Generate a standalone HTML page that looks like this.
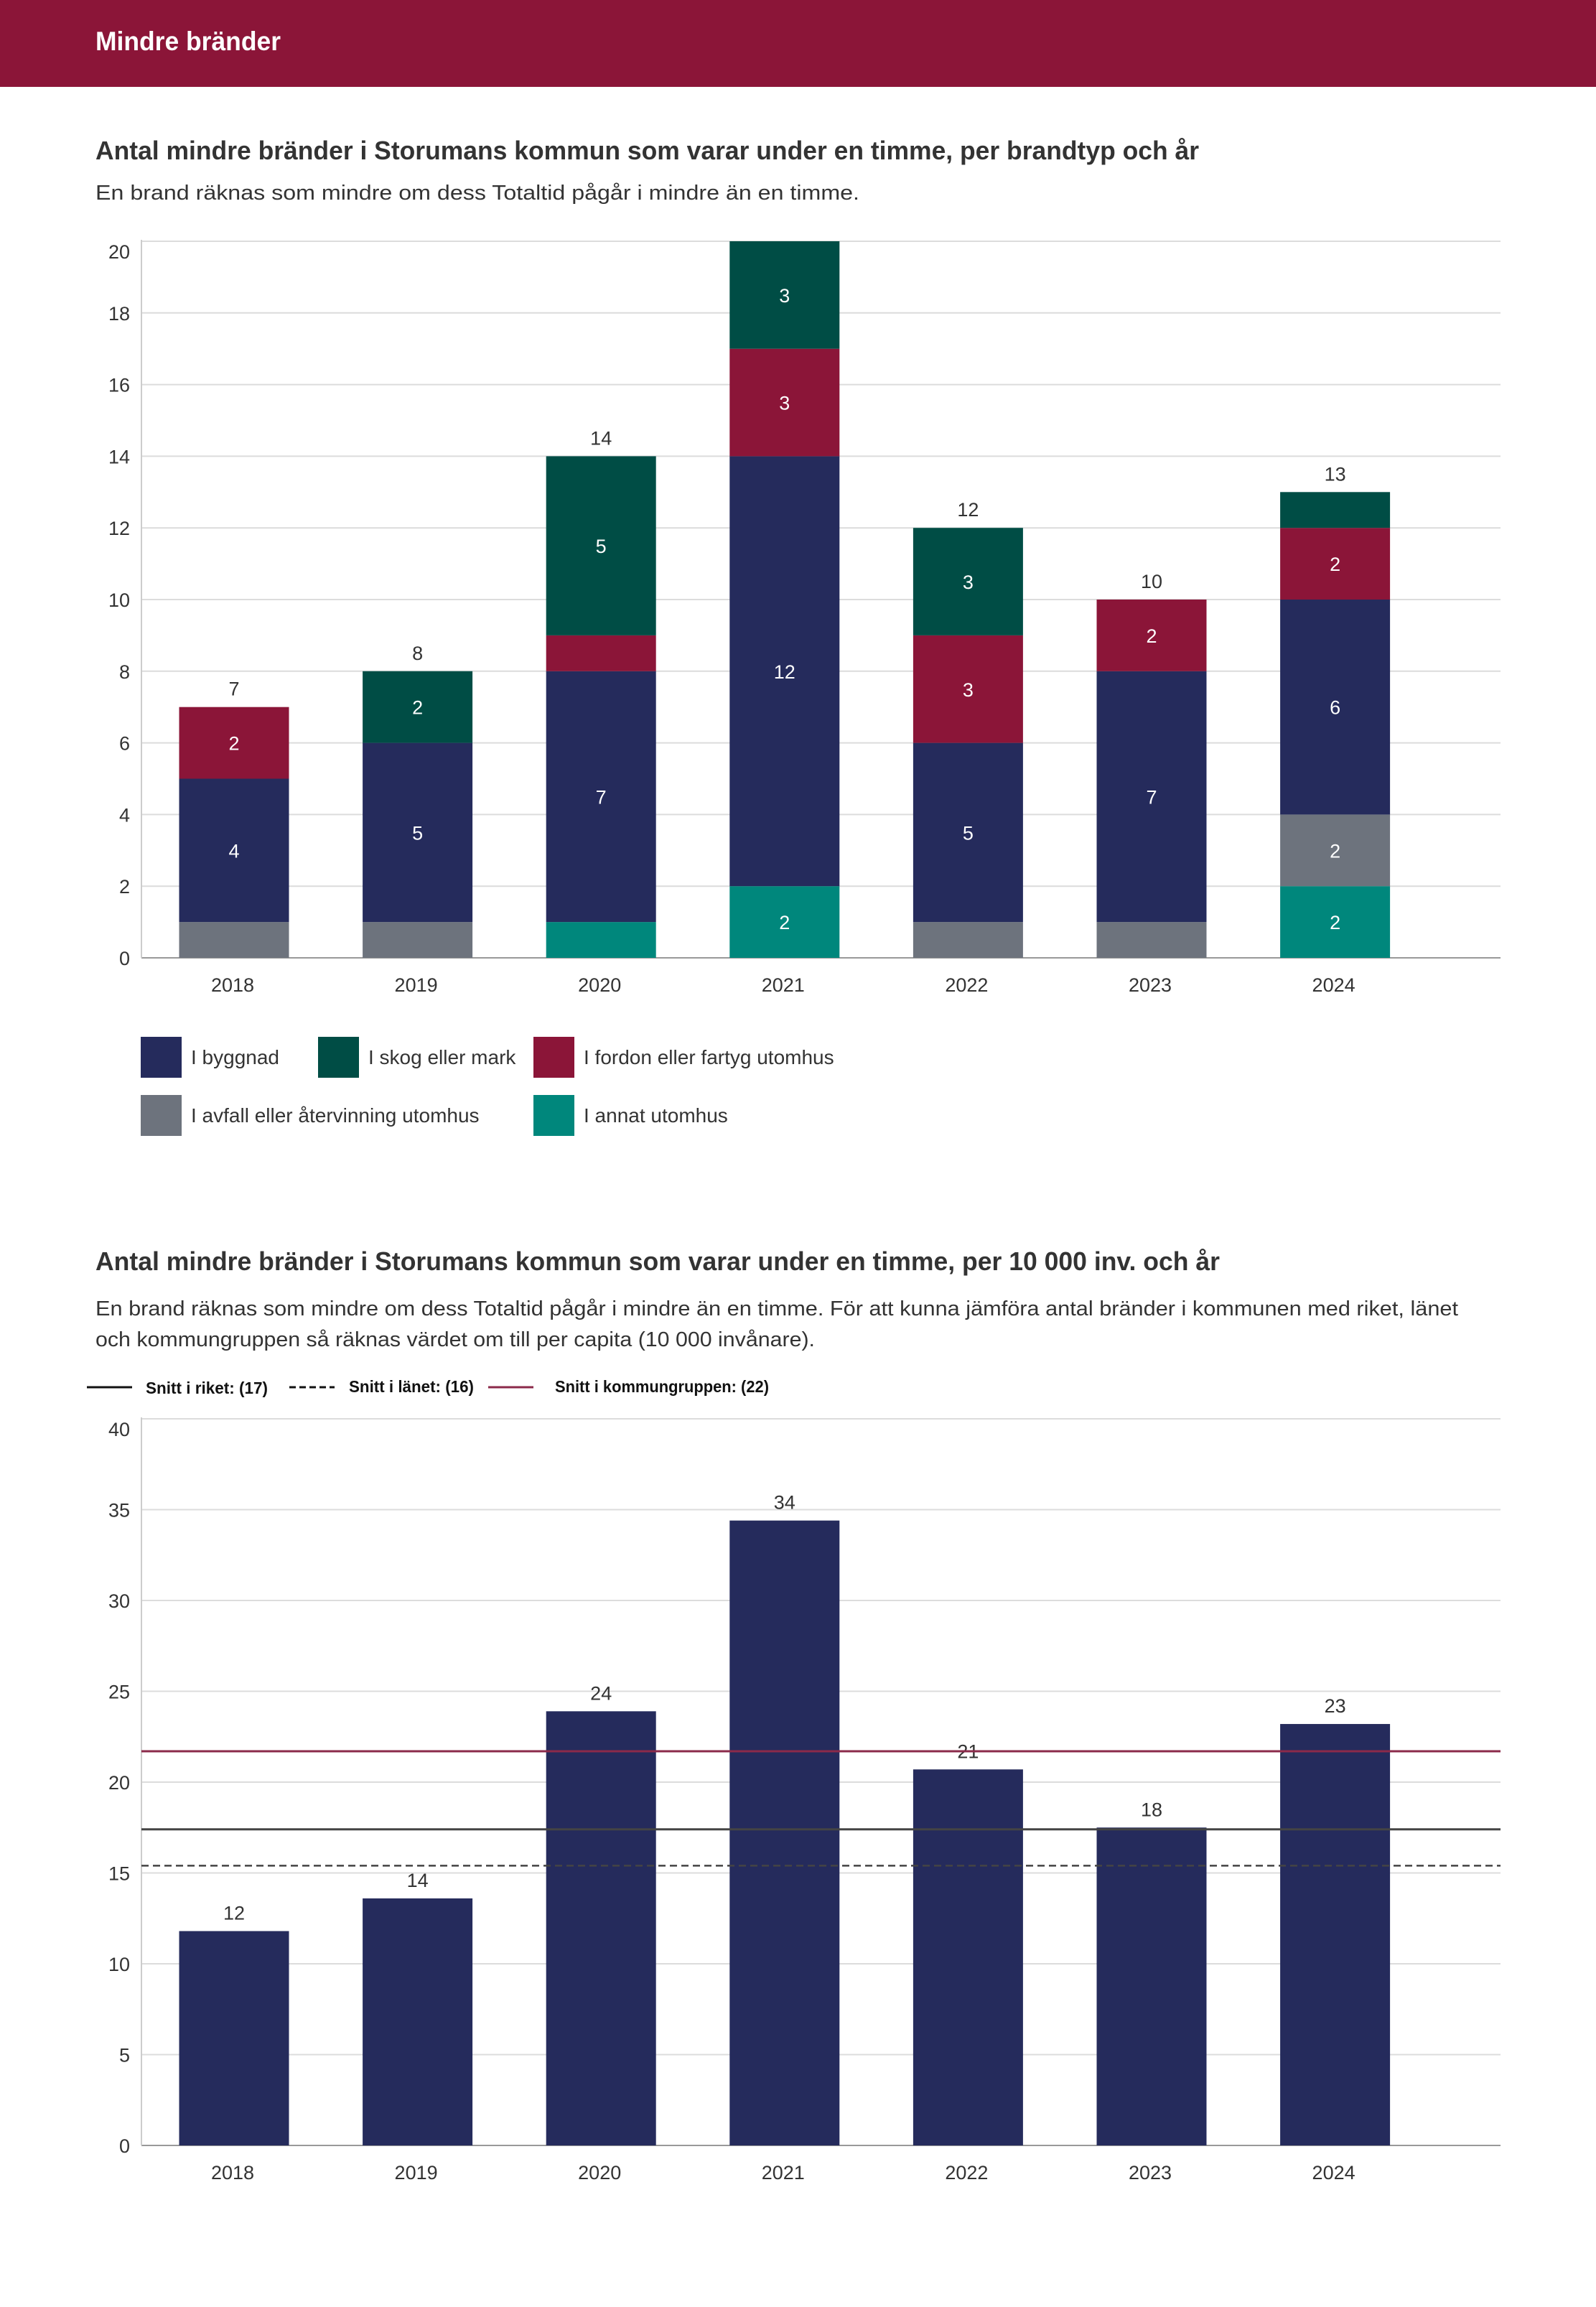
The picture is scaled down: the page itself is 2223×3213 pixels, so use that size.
<!DOCTYPE html>
<html><head><meta charset="utf-8">
<style>
html,body{margin:0;padding:0;background:#fff;}
svg{display:block;font-family:"Liberation Sans",sans-serif;}
</style></head>
<body>
<svg id="page" width="2223" height="3213" viewBox="0 0 2223 3213" xmlns="http://www.w3.org/2000/svg">
<rect x="0" y="0" width="2223" height="121" fill="#8b1538"/>
<text x="133" y="70" font-size="37" font-weight="bold" fill="#fff" textLength="258" lengthAdjust="spacingAndGlyphs">Mindre bränder</text>

<text x="133" y="222" font-size="36" font-weight="bold" fill="#333" textLength="1537" lengthAdjust="spacingAndGlyphs">Antal mindre bränder i Storumans kommun som varar under en timme, per brandtyp och år</text>
<text x="133" y="278" font-size="29" fill="#333" textLength="1064" lengthAdjust="spacingAndGlyphs">En brand räknas som mindre om dess Totaltid pågår i mindre än en timme.</text>
<g id="chart1"></g>
<g id="legend1"></g>

<text x="133" y="1769" font-size="36" font-weight="bold" fill="#333" textLength="1566" lengthAdjust="spacingAndGlyphs">Antal mindre bränder i Storumans kommun som varar under en timme, per 10 000 inv. och år</text>
<text x="133" y="1832" font-size="29" fill="#333" textLength="1898" lengthAdjust="spacingAndGlyphs">En brand räknas som mindre om dess Totaltid pågår i mindre än en timme. För att kunna jämföra antal bränder i kommunen med riket, länet</text>
<text x="133" y="1875" font-size="29" fill="#333" textLength="1002" lengthAdjust="spacingAndGlyphs">och kommungruppen så räknas värdet om till per capita (10 000 invånare).</text>
<g id="legend2">
<line x1="121" y1="1932" x2="184" y2="1932" stroke="#111" stroke-width="3"/>
<text x="203" y="1941" font-size="23" font-weight="bold" fill="#111" textLength="170" lengthAdjust="spacingAndGlyphs">Snitt i riket: (17)</text>
<line x1="403" y1="1932" x2="466" y2="1932" stroke="#111" stroke-width="3" stroke-dasharray="9,5"/>
<text x="486" y="1939" font-size="23" font-weight="bold" fill="#111" textLength="174" lengthAdjust="spacingAndGlyphs">Snitt i länet: (16)</text>
<line x1="680" y1="1932" x2="743" y2="1932" stroke="#8b2a4a" stroke-width="3"/>
<text x="773" y="1939" font-size="23" font-weight="bold" fill="#111" textLength="298" lengthAdjust="spacingAndGlyphs">Snitt i kommungruppen: (22)</text>
</g>
<g id="chart2"></g>
</svg>
<script>
// Chart 1 data
const years = ["2018","2019","2020","2021","2022","2023","2024"];
const avfall = [1,1,0,0,1,1,2];
const annat = [0,0,1,2,0,0,2];
const byggnad = [4,5,7,12,5,7,6];
const fordon = [2,0,1,3,3,2,2];
const skog = [0,2,5,3,3,0,1];
const ticks1 = [0,2,4,6,8,10,12,14,16,18,20];
// Chart 2 data
const perCapita = [11.8,13.6,23.9,34.4,20.7,17.5,23.2];
const perCapitaLabels = ["12","14","24","34","21","18","23"];
const ticks2 = [0,5,10,15,20,25,30,35,40];
const snittRiket = 17.4;
const snittLanet = 15.4;
const snittKommungrupp = 21.7;

const NS = "http://www.w3.org/2000/svg";
function mk(parent, tag, attrs, text){
  const e = document.createElementNS(NS, tag);
  for (const k in attrs) e.setAttribute(k, attrs[k]);
  if (text !== undefined) e.textContent = text;
  parent.appendChild(e);
  return e;
}
const left = 197, right = 2090, bandStart = 326, band = 255.6, barW = 153;
const xc = i => bandStart + i*band;

// ---- Chart 1 ----
const c1 = document.getElementById("chart1");
const y1 = v => 1334 - v*(1334-336)/20;
ticks1.forEach(t => {
  const gl = mk(c1, "line", {x1:left, x2:right, y1:y1(t), y2:y1(t), stroke: t===0?"#999":"#dcdcdc", "stroke-width":2});
  
  
  const tl = mk(c1, "text", {x:181, y:y1(t)+(t===20?24:10), "font-size":27, fill:"#333", "text-anchor":"end"}, String(t));
  
  
});
const ax1 = mk(c1, "line", {x1:left, x2:left, y1:334, y2:1334, stroke:"#ccc", "stroke-width":2});


const series = [
  {name:"annat", vals:annat, color:"#00877c"},
  {name:"avfall", vals:avfall, color:"#6d737d"},
  {name:"byggnad", vals:byggnad, color:"#252b5c"},
  {name:"fordon", vals:fordon, color:"#8b1538"},
  {name:"skog", vals:skog, color:"#004d45"}
];
years.forEach((yr, i) => {
  let base = 0;
  series.forEach(s => {
    const v = s.vals[i];
    if (v > 0) {
      const r = mk(c1, "rect", {x:xc(i)-barW/2, y:y1(base+v), width:barW, height:y1(base)-y1(base+v), fill:s.color});
      
      
      if (v >= 2) {
        const t = mk(c1, "text", {x:xc(i), y:(y1(base)+y1(base+v))/2+10, "font-size":27, fill:"#fff", "text-anchor":"middle"}, String(v));
        
        
      }
    }
    base += v;
  });
  if (y1(base) - 20 > 336) {
    const tt = mk(c1, "text", {x:xc(i), y:y1(base)-16, "font-size":27, fill:"#333", "text-anchor":"middle"}, String(base));
    
    
  }
  const xl = mk(c1, "text", {x:xc(i)-2, y:1381, "font-size":27, fill:"#333", "text-anchor":"middle"}, yr);
  
  
});

// Legend 1
const lg = document.getElementById("legend1");
const legItems = [
  {label:"I byggnad", color:"#252b5c", x:196, y:1444},
  {label:"I skog eller mark", color:"#004d45", x:443, y:1444},
  {label:"I fordon eller fartyg utomhus", color:"#8b1538", x:743, y:1444},
  {label:"I avfall eller återvinning utomhus", color:"#6d737d", x:196, y:1525},
  {label:"I annat utomhus", color:"#00877c", x:743, y:1525}
];
legItems.forEach(it => {
  const sw = mk(lg, "rect", {x:it.x, y:it.y, width:57, height:57, fill:it.color});
  
  
  const tx = mk(lg, "text", {x:it.x+70, y:it.y+38, "font-size":28, fill:"#333"}, it.label);
  
  
});

// ---- Chart 2 ----
const c2 = document.getElementById("chart2");
const y2 = v => 2988 - v*(2988-1976)/40;
ticks2.forEach(t => {
  const gl = mk(c2, "line", {x1:left, x2:right, y1:y2(t), y2:y2(t), stroke: t===0?"#999":"#dcdcdc", "stroke-width":2});
  
  
  const tl = mk(c2, "text", {x:181, y:y2(t)+(t===40?24:10), "font-size":27, fill:"#333", "text-anchor":"end"}, String(t));
  
  
});
const ax2 = mk(c2, "line", {x1:left, x2:left, y1:1974, y2:2988, stroke:"#ccc", "stroke-width":2});


years.forEach((yr, i) => {
  const v = perCapita[i];
  const r = mk(c2, "rect", {x:xc(i)-barW/2, y:y2(v), width:barW, height:y2(0)-y2(v), fill:"#252b5c"});
  
  
  const t = mk(c2, "text", {x:xc(i), y:y2(v)-16, "font-size":27, fill:"#333", "text-anchor":"middle"}, perCapitaLabels[i]);
  
  
  const xl = mk(c2, "text", {x:xc(i)-2, y:3035, "font-size":27, fill:"#333", "text-anchor":"middle"}, yr);
  
  
});
const lr = mk(c2, "line", {x1:left, x2:right, y1:y2(snittKommungrupp), y2:y2(snittKommungrupp), stroke:"#8b2a4a", "stroke-width":3});


const lk = mk(c2, "line", {x1:left, x2:right, y1:y2(snittRiket), y2:y2(snittRiket), stroke:"#444", "stroke-width":3});


const ll = mk(c2, "line", {x1:left, x2:right, y1:y2(snittLanet), y2:y2(snittLanet), stroke:"#444", "stroke-width":2.5, "stroke-dasharray":"10,6"});


</script>
</body></html>
